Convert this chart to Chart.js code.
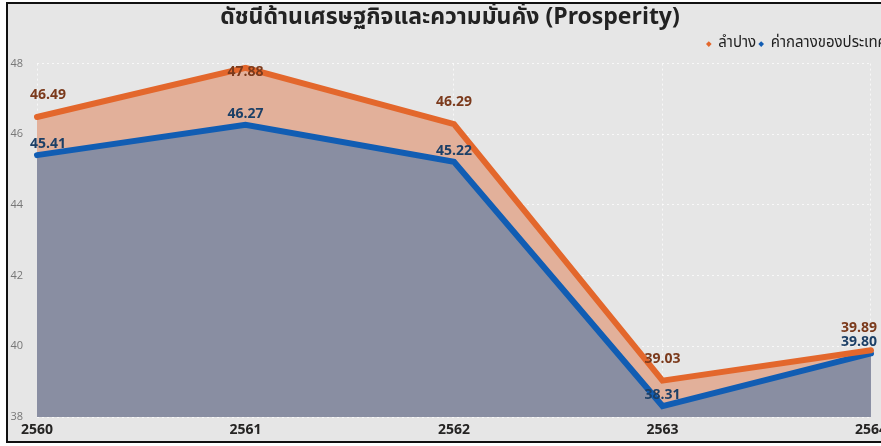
<!DOCTYPE html>
<html>
<head>
<meta charset="utf-8">
<script src="https://cdn.jsdelivr.net/npm/chart.js@4/dist/chart.umd.min.js"></script>
<style>
html, body { margin: 0; padding: 0; background: #fff; overflow: hidden; width: 881px; height: 446px; }
#box { position: absolute; left: 6px; top: 2px; width: 884px; height: 437px; border: 2px solid #111; background: #e6e6e6; }
</style>
</head>
<body>
<div id="box"><canvas id="grafico"></canvas></div>
<script>
const years = ['2560', '2561', '2562', '2563', '2564'];
const lampang = [46.49, 47.88, 46.29, 39.03, 39.89];
const national = [45.41, 46.27, 45.22, 38.31, 39.80];
const yTicks = [38, 40, 42, 44, 46, 48];

const thaiFont = "'Noto Sans Thai', 'Noto Sans', 'Open Sans', sans-serif";

// value labels drawn above each point
const valueLabels = {
	id: 'valueLabels',
	afterDatasetsDraw(chart) {
		const ctx = chart.ctx;
		const area = chart.chartArea;
		ctx.save();
		ctx.font = "bold 14px 'Open Sans', sans-serif";
		ctx.textBaseline = 'middle';
		ctx.textAlign = 'left';
		chart.data.datasets.forEach((ds, i) => {
			const meta = chart.getDatasetMeta(i);
			meta.data.forEach((pt, j) => {
				const txt = ds.data[j].toFixed(2);
				const w = ctx.measureText(txt).width;
				let x = pt.x - w / 2;
				if (x < area.left - 7) x = area.left - 7;
				if (x + w > area.right + 6) x = area.right + 6 - w;
				let y = pt.y - ds.labelOffset;
				if (y < area.top + 8) y = area.top + 8;
				ctx.fillStyle = ds.labelColor;
				ctx.fillText(txt, x, y);
			});
		});
		ctx.restore();
	}
};

// extra space under the legend, and pull it a bit left
const legendGap = {
	id: 'legendGap',
	beforeInit(chart) {
		const fit = chart.legend.fit;
		chart.legend.fit = function () {
			fit.bind(chart.legend)();
			this.height += 2;
		};
	},
	afterLayout(chart) {
		chart.legend.right -= 2;
	}
};

new Chart(document.querySelector('#grafico'), {
	type: 'line',
	data: {
		labels: years,
		datasets: [
			{
				label: 'ลำปาง',
				data: lampang,
				borderColor: '#e3672c',
				backgroundColor: '#e2b09a',
				borderWidth: 6,
				fill: '+1',
				labelColor: '#7b3a1c',
				labelOffset: 22
			},
			{
				label: 'ค่ากลางของประเทศ',
				data: national,
				borderColor: '#115db3',
				backgroundColor: '#898ea2',
				borderWidth: 6,
				fill: 'start',
				labelColor: '#1c3f66',
				labelOffset: 11
			}
		]
	},
	options: {
		responsive: true,
		maintainAspectRatio: false,
		animation: false,
		elements: {
			point: { radius: 0, hoverRadius: 0 },
			line: { tension: 0, borderCapStyle: 'round', borderJoinStyle: 'miter' }
		},
		datasets: { line: { clip: false } },
		layout: { padding: 0 },
		plugins: {
			filler: { drawTime: 'beforeDatasetsDraw' },
			tooltip: { enabled: false },
			title: {
				display: true,
				text: 'ดัชนีด้านเศรษฐกิจและความมั่นคั่ง (Prosperity)',
				color: '#222',
				font: { family: thaiFont, size: 23, weight: 'bold' },
				padding: { top: 2, bottom: 0 }
			},
			legend: {
				display: true,
				position: 'top',
				align: 'end',
				labels: {
					usePointStyle: true,
					pointStyle: 'rectRot',
					boxWidth: 4,
					boxHeight: 4,
					color: '#222',
					font: { family: thaiFont, size: 15 },
					padding: 3,
					generateLabels: chart => Chart.defaults.plugins.legend.labels.generateLabels(chart)
						.map(l => ({ ...l, lineWidth: 0, fillStyle: l.strokeStyle }))
				}
			}
		},
		scales: {
			x: {
				offset: false,
				afterFit: s => { s.height = 24; },
				grid: { color: 'rgba(255,255,255,0.7)', drawTicks: false },
				border: { display: false, dash: [2, 3] },
				ticks: {
					color: '#252423',
					padding: 5,
					font: { family: "'Open Sans', sans-serif", size: 14, weight: 'bold' },
					maxRotation: 0
				}
			},
			y: {
				min: 38,
				max: 48,
				afterFit: s => { s.width = 29; },
				afterBuildTicks: s => { s.ticks = yTicks.map(v => ({ value: v })); },
				grid: { color: 'rgba(255,255,255,0.7)', drawTicks: false },
				border: { display: false, dash: [2, 3] },
				ticks: {
					color: '#777',
					padding: 14,
					font: { family: "'Open Sans', sans-serif", size: 11 }
				}
			},
			right: {
				position: 'right',
				min: 38,
				max: 48,
				afterFit: s => { s.width = 20; },
				grid: { display: false },
				border: { display: false },
				ticks: { display: false }
			}
		}
	},
	plugins: [valueLabels, legendGap]
});
</script>
</body>
</html>
